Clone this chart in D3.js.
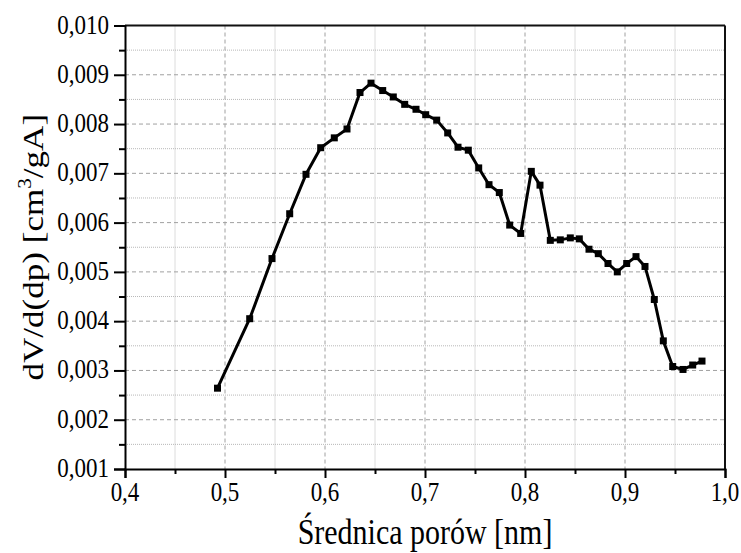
<!DOCTYPE html>
<html><head><meta charset="utf-8">
<script src="https://cdn.jsdelivr.net/npm/d3@7"></script>
<style>
html,body{margin:0;padding:0;background:#fff;}
svg{display:block;}
text{font-family:"Liberation Serif","Times New Roman",serif;fill:#000;}
</style></head>
<body><svg id="c" width="741" height="553"></svg>
<script>
const poreDiameter = [0.4925,0.5247,0.547,0.5647,0.581,0.5957,0.6093,0.622,0.635,0.646,0.6577,0.6683,0.6797,0.691,0.7007,0.7117,0.7227,0.733,0.7433,0.7537,0.764,0.7743,0.7847,0.7957,0.8063,0.815,0.8253,0.8353,0.8453,0.8543,0.864,0.8733,0.883,0.8923,0.9017,0.911,0.920,0.9293,0.9383,0.9477,0.958,0.9677,0.977];
const dVdDp = [0.00264,0.00405,0.00527,0.00618,0.00698,0.00752,0.00772,0.0079,0.00864,0.00883,0.00868,0.00855,0.0084,0.0083,0.00819,0.00808,0.00782,0.00753,0.00747,0.00711,0.00677,0.00661,0.00595,0.00578,0.00704,0.00676,0.00564,0.00565,0.00569,0.00567,0.00546,0.00537,0.00517,0.005,0.00517,0.00531,0.00511,0.00444,0.0036,0.00308,0.00302,0.00311,0.00319];
const xTicks = [0.4,0.5,0.6,0.7,0.8,0.9,1.0];
const xMinorTicks = [0.45,0.55,0.65,0.75,0.85,0.95];
const yTicks = [0.001,0.002,0.003,0.004,0.005,0.006,0.007,0.008,0.009,0.010];
const yMinorTicks = [0.0015,0.0025,0.0035,0.0045,0.0055,0.0065,0.0075,0.0085,0.0095];
const xTitle = "Średnica porów [nm]";

const L=125, R=725, T=25.5, B=469;
const SY = 1.17; // vertical stretch of glyphs in the reference
const svg = d3.select("#c");
const x = d3.scaleLinear().domain([0.4,1.0]).range([L,R]);
const y = d3.scaleLinear().domain([0.001,0.010]).range([B,T]);
const fx = d => d3.format(".1f")(d).replace(".",",");
const fy = d => d3.format(".3f")(d).replace(".",",");

// grid
const g = svg.append("g");
g.selectAll(".gmx").data(xMinorTicks).join("line")
  .attr("x1",d=>x(d)).attr("x2",d=>x(d)).attr("y1",T).attr("y2",B)
  .attr("stroke","#b8b8b8").attr("stroke-width",1).attr("stroke-dasharray","1,1");
g.selectAll(".gmy").data(yMinorTicks).join("line")
  .attr("y1",d=>y(d)).attr("y2",d=>y(d)).attr("x1",L).attr("x2",R)
  .attr("stroke","#b8b8b8").attr("stroke-width",1).attr("stroke-dasharray","1,1");
g.selectAll(".gx").data(xTicks.slice(1,-1)).join("line")
  .attr("x1",d=>x(d)).attr("x2",d=>x(d)).attr("y1",T).attr("y2",B)
  .attr("stroke","#a0a0a0").attr("stroke-width",1).attr("stroke-dasharray","4,3");
g.selectAll(".gy").data(yTicks.slice(1,-1)).join("line")
  .attr("y1",d=>y(d)).attr("y2",d=>y(d)).attr("x1",L).attr("x2",R)
  .attr("stroke","#a0a0a0").attr("stroke-width",1).attr("stroke-dasharray","4,3");

// frame top/right
svg.append("line").attr("x1",L).attr("x2",R).attr("y1",T).attr("y2",T).attr("stroke","#111").attr("stroke-width",2);
svg.append("line").attr("x1",R).attr("x2",R).attr("y1",T).attr("y2",B).attr("stroke","#111").attr("stroke-width",2);

// axes
const xAxis = d3.axisBottom(x).tickValues(xTicks).tickSize(9).tickFormat(()=> "");
const gx = svg.append("g").attr("transform",`translate(0,${B})`).call(xAxis);
const xAxisMinor = d3.axisBottom(x).tickValues(xMinorTicks).tickSize(5).tickFormat(()=> "");
const gxm = svg.append("g").attr("transform",`translate(0,${B})`).call(xAxisMinor);
const yAxis = d3.axisLeft(y).tickValues(yTicks).tickSize(11).tickFormat(()=> "");
const gy = svg.append("g").attr("transform",`translate(${L},0)`).call(yAxis);
const yAxisMinor = d3.axisLeft(y).tickValues(yMinorTicks).tickSize(6).tickFormat(()=> "");
const gym = svg.append("g").attr("transform",`translate(${L},0)`).call(yAxisMinor);
[gx,gxm,gy,gym].forEach(a=>{
  a.selectAll(".domain").attr("stroke","#000").attr("stroke-width",2);
  a.selectAll(".tick line").attr("stroke","#000").attr("stroke-width",2);
});
gxm.select(".domain").remove(); gym.select(".domain").remove();

// tick labels (stretched vertically like the reference)
svg.append("g").selectAll("text").data(xTicks).join("text")
  .attr("transform",d=>`translate(${x(d)},${B+32}) scale(1,${SY})`)
  .attr("text-anchor","middle").attr("font-size",23).text(fx);
svg.append("g").selectAll("text").data(yTicks).join("text")
  .attr("transform",d=>`translate(${L-16},${y(d)+8}) scale(1,${SY})`)
  .attr("text-anchor","end").attr("font-size",23).text(fy);

// titles
svg.append("text").attr("transform",`translate(${(L+R)/2},${544}) scale(1,${SY})`)
  .attr("text-anchor","middle").attr("font-size",30).text(xTitle);
const yt = svg.append("text").attr("transform",`translate(43,${(T+B)/2}) rotate(-90) scale(${SY},1)`)
  .attr("text-anchor","middle").attr("font-size",30);
yt.append("tspan").text("dV/d(dp) [cm");
yt.append("tspan").attr("font-size",18).attr("dy",-12).text("3");
yt.append("tspan").attr("dy",12).text("/gA]");

// line + markers
const pts = poreDiameter.map((d,i)=>[d,dVdDp[i]]);
svg.append("path").datum(pts)
  .attr("d", d3.line().x(d=>x(d[0])).y(d=>y(d[1])))
  .attr("fill","none").attr("stroke","#000").attr("stroke-width",3).attr("stroke-linejoin","round");
svg.append("g").selectAll("rect").data(pts).join("rect")
  .attr("x",d=>x(d[0])-3.5).attr("y",d=>y(d[1])-3.5).attr("width",7).attr("height",7).attr("fill","#000");
</script></body></html>
